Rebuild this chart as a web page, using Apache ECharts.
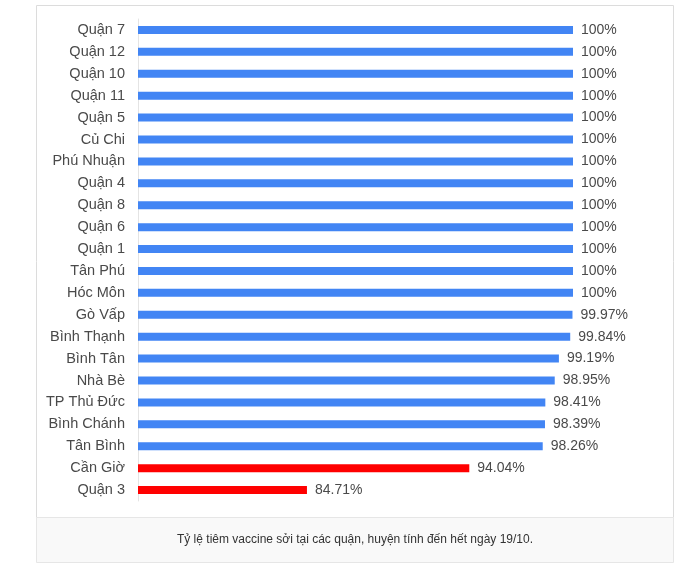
<!DOCTYPE html>
<html>
<head>
<meta charset="utf-8">
<script src="https://cdn.jsdelivr.net/npm/echarts@6/dist/echarts.min.js"></script>
<style>
  html, body { margin: 0; padding: 0; background: #fff; }
  #chart { width: 685px; height: 567px; }
</style>
</head>
<body>
<div id="chart"></div>
<script>
// danh sách quận, huyện (từ trên xuống)
const districts = [
  "Quận 7", "Quận 12", "Quận 10", "Quận 11", "Quận 5", "Củ Chi", "Phú Nhuận",
  "Quận 4", "Quận 8", "Quận 6", "Quận 1", "Tân Phú", "Hóc Môn", "Gò Vấp",
  "Bình Thạnh", "Bình Tân", "Nhà Bè", "TP Thủ Đức", "Bình Chánh", "Tân Bình",
  "Cần Giờ", "Quận 3"
];
// tỷ lệ tiêm (%)
const rates = [
  100, 100, 100, 100, 100, 100, 100,
  100, 100, 100, 100, 100, 100, 99.97,
  99.84, 99.19, 98.95, 98.41, 98.39, 98.26,
  94.04, 84.71
];
const caption = "Tỷ lệ tiêm vaccine sởi tại các quận, huyện tính đến hết ngày 19/10.";

const font = "Liberation Sans, Arial, sans-serif";
const mychart = echarts.init(document.getElementById("chart"));

mychart.setOption({
  animation: false,
  textStyle: { fontFamily: font },
  graphic: [
    // khung trắng của biểu đồ
    {
      type: "rect",
      shape: { x: 36.5, y: 5.5, width: 637, height: 512 },
      style: { fill: "#fff", stroke: "#dcdcdc", lineWidth: 1 },
      z: -10
    },
    // vùng chú thích
    {
      type: "rect",
      shape: { x: 36.5, y: 517.5, width: 637, height: 45 },
      style: { fill: "#f9f9f9", stroke: "#e6e6e6", lineWidth: 1 },
      z: -10
    },
    {
      type: "text",
      x: 355,
      y: 540,
      style: {
        text: caption,
        fill: "#333",
        font: "12px " + font,
        align: "center",
        verticalAlign: "middle"
      }
    }
  ],
  grid: {
    left: 138,
    top: 19,
    width: 435,
    height: 482
  },
  xAxis: {
    type: "value",
    min: 75,
    max: 100,
    show: false
  },
  yAxis: {
    type: "category",
    inverse: true,
    data: districts,
    axisLine: { show: true, lineStyle: { color: "#e4e4e4", width: 1 } },
    axisTick: { show: false },
    axisLabel: {
      color: "#4a4a4a",
      fontSize: 14.5,
      margin: 13,
      fontFamily: font
    }
  },
  series: [
    {
      type: "bar",
      barWidth: 8,
      data: rates.map((v) => ({
        value: v,
        itemStyle: { color: v < 95 ? "#ff0000" : "#4285f4" }
      })),
      label: {
        show: true,
        position: "right",
        distance: 8,
        color: "#4a4a4a",
        fontSize: 14,
        fontFamily: font,
        formatter: (p) => p.value + "%"
      }
    }
  ]
});
</script>
</body>
</html>
